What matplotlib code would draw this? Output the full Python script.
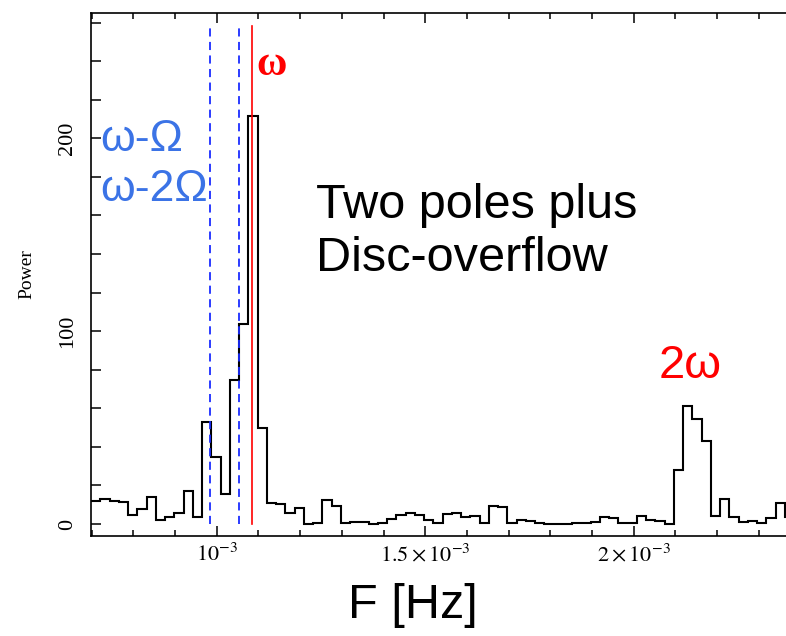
import numpy as np
import matplotlib
matplotlib.use("Agg")
import matplotlib.pyplot as plt
from matplotlib.ticker import FixedLocator, MultipleLocator, FixedFormatter

plt.rcParams['mathtext.fontset'] = 'stix'

# ---- data ----
f_start = 6.98e-4          # first bin edge [Hz]
bin_width = 2.22e-5        # frequency resolution [Hz]
power = [11.9, 12.8, 11.7, 11.2, 4.8, 7.9, 14.0, 2.3, 3.9, 5.8,
         17.1, 3.5, 52.7, 34.8, 15.7, 74.6, 103.7, 211.4, 49.9, 11.0,
         10.5, 5.8, 8.1, 0.1, 0.4, 12.4, 9.6, 0.4, 0.9, 1.1,
         0.0, 0.6, 2.5, 4.8, 5.6, 4.6, 2.3, 0.4, 5.1, 5.5,
         3.6, 4.4, 0.8, 9.3, 8.6, 0.8, 2.0, 1.5, 0.6, 0.1,
         0.0, 0.0, 0.3, 0.6, 1.1, 3.7, 3.0, 0.4, 0.6, 4.3,
         2.0, 1.8, 0.0, 27.9, 61.4, 54.4, 43.1, 4.3, 12.8, 3.4,
         1.3, 1.5, 0.4, 3.2, 11.0, 3.5]
edges = f_start + bin_width * np.arange(len(power) + 1)

f_omega = 1.084e-3                  # spin frequency (red line)
f_sidebands = [9.84e-4, 1.0535e-3]  # dashed blue lines
line_top = 258

xticks_major = [1.0e-3, 1.5e-3, 2.0e-3]
xtick_labels = [r'$10^{-3}$', r'$1.5\times10^{-3}$', r'$2\times10^{-3}$']
yticks_major = [0, 100, 200]
ytick_labels = ['0', '100', '200']

# ---- figure ----
fig = plt.figure(figsize=(7.86, 6.36), dpi=100)
ax = fig.add_axes([91/786, 100/636, 1 - 91/786, 523/636])

ax.stairs(power, edges, baseline=None, color='black', lw=1.5, zorder=2)
for fs in f_sidebands:
    ax.plot([fs, fs], [0, line_top], color='#1a2cff', lw=1.3,
            ls=(0, (4.5, 3)), zorder=3)
ax.plot([f_omega, f_omega], [0, line_top], color='#ff0000', lw=1.2, zorder=4)

ax.set_xlim(6.98e-4, 2.366e-3)
ax.set_ylim(-6.2, 265)

ax.xaxis.set_major_locator(FixedLocator(xticks_major))
ax.xaxis.set_major_formatter(FixedFormatter(xtick_labels))
ax.xaxis.set_minor_locator(MultipleLocator(1e-4))
ax.yaxis.set_major_locator(FixedLocator(yticks_major))
ax.yaxis.set_major_formatter(FixedFormatter(ytick_labels))
ax.yaxis.set_minor_locator(MultipleLocator(20))

ax.tick_params(axis='both', which='both', direction='in', top=True,
               right=False, width=1.1, colors='black')
ax.tick_params(axis='x', which='major', length=7.5, pad=5, labelsize=16)
ax.tick_params(axis='x', which='minor', length=4)
ax.tick_params(axis='y', which='major', length=7, pad=10, labelsize=16)
ax.tick_params(axis='y', which='minor', length=7)
for lab in ax.get_yticklabels():
    lab.set_rotation(90)
    lab.set_va('center')
    lab.set_fontfamily('Liberation Serif')

ax.spines['right'].set_visible(False)
for s in ['left', 'top', 'bottom']:
    ax.spines[s].set_linewidth(1.2)

ax.set_ylabel('Power', fontfamily='Liberation Serif', fontsize=14, labelpad=16)

# annotations
blue = '#3b73e6'
ax.text(7.2e-4, 199.5, 'ω-Ω', color=blue, fontsize=32,
        fontfamily='Liberation Sans', ha='left', va='center')
ax.text(7.2e-4, 173.5, 'ω-2Ω', color=blue, fontsize=32,
        fontfamily='Liberation Sans', ha='left', va='center')
ax.text(1.131e-3, 238, 'ω', color='red', fontsize=30, fontweight='bold',
        fontfamily='Liberation Serif', ha='center', va='center')
ax.text(2.136e-3, 82, '2ω', color='red', fontsize=34,
        fontfamily='Liberation Sans', ha='center', va='center')
ax.text(1.2386e-3, 165.4, 'Two poles plus', color='black', fontsize=35,
        fontfamily='Liberation Sans', ha='left', va='center')
ax.text(1.2386e-3, 137.8, 'Disc-overflow', color='black', fontsize=35,
        fontfamily='Liberation Sans', ha='left', va='center')

fig.text(413/786, 1 - 605/636, 'F [Hz]', fontsize=35,
         fontfamily='Liberation Sans', ha='center', va='center')

fig.savefig('out.png', dpi=100)
